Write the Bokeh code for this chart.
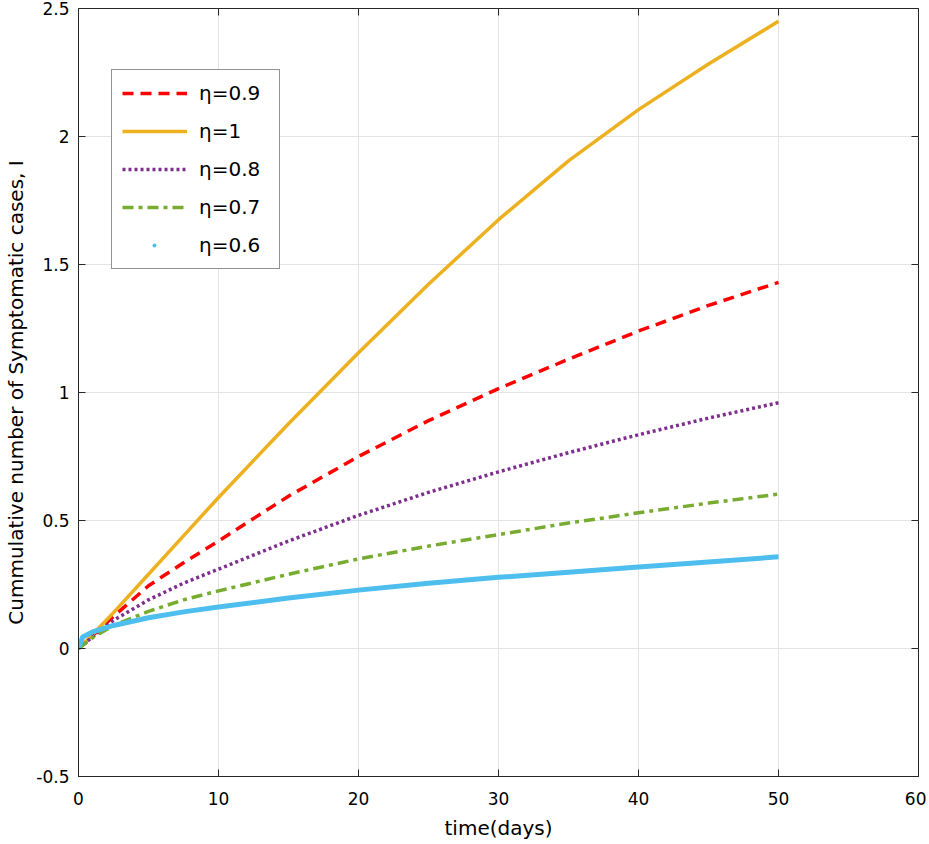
import math
from bokeh.plotting import figure
from bokeh.models import (Legend, LegendItem, FixedTicker, Range1d)
from bokeh.embed import file_html
from bokeh.resources import INLINE

# ---- data ----
t = [0, 0.3, 1, 2.5, 5, 7.5, 10, 15, 20, 25, 30, 35, 40, 45, 50]
eta_1_0 = [0, 0.015, 0.055, 0.14, 0.29, 0.44, 0.59, 0.878, 1.155, 1.423, 1.675, 1.905, 2.105, 2.283, 2.45]
eta_0_9 = [0, 0.014, 0.05, 0.125, 0.245, 0.335, 0.42, 0.595, 0.75, 0.89, 1.015, 1.13, 1.24, 1.34, 1.43]
eta_0_8 = [0, 0.013, 0.045, 0.11, 0.19, 0.255, 0.31, 0.42, 0.52, 0.61, 0.69, 0.765, 0.835, 0.90, 0.96]
eta_0_7 = [0, 0.012, 0.042, 0.09, 0.145, 0.19, 0.225, 0.29, 0.35, 0.40, 0.445, 0.49, 0.53, 0.568, 0.603]
eta_0_6 = [0, 0.045, 0.065, 0.09, 0.12, 0.143, 0.162, 0.197, 0.228, 0.255, 0.278, 0.298, 0.318, 0.338, 0.358]

x_ticks = [0, 10, 20, 30, 40, 50, 60]
y_ticks = [-0.5, 0, 0.5, 1, 1.5, 2, 2.5]
y_tick_labels = ["-0.5", "0", "0.5", "1", "1.5", "2", "2.5"]
x_tick_labels = ["0", "10", "20", "30", "40", "50", "60"]
labels = ["η=0.9", "η=1", "η=0.8", "η=0.7", "η=0.6"]

FONT = "DejaVu Sans"
AX = "#262626"

p = figure(width=926, height=844, output_backend="svg", toolbar_location=None,
           x_range=Range1d(x_ticks[0], x_ticks[-1]), y_range=Range1d(y_ticks[0], y_ticks[-1]),
           min_border_left=78, min_border_right=8, min_border_top=8, min_border_bottom=68)
p.outline_line_color = AX
p.outline_line_width = 1
p.background_fill_color = "white"
p.border_fill_color = "white"

for ax in [p.xaxis[0], p.yaxis[0]]:
    ax.major_tick_in = 7
    ax.major_tick_out = 0
    ax.minor_tick_line_color = None
    ax.axis_line_color = AX
    ax.major_tick_line_color = AX
    ax.major_label_text_font = FONT
    ax.major_label_text_font_size = "17px"
    ax.major_label_text_color = "black"
    ax.axis_label_text_font = FONT
    ax.axis_label_text_font_size = "20px"
    ax.axis_label_text_font_style = "normal"
    ax.axis_label_text_color = "black"

p.xaxis[0].ticker = FixedTicker(ticks=x_ticks)
p.xaxis[0].major_label_overrides = {v: s for v, s in zip(x_ticks, x_tick_labels)}
p.yaxis[0].ticker = FixedTicker(ticks=y_ticks)
p.yaxis[0].major_label_overrides = {v: s for v, s in zip(y_ticks, y_tick_labels)}
p.xaxis[0].axis_label = "time(days)"
p.yaxis[0].axis_label = "Cummulative number of Symptomatic cases, I"
p.xaxis[0].major_label_standoff = 15
p.yaxis[0].major_label_standoff = 9
p.xaxis[0].axis_label_standoff = 8
p.yaxis[0].axis_label_standoff = 5

p.xgrid.ticker = FixedTicker(ticks=x_ticks)
p.ygrid.ticker = FixedTicker(ticks=y_ticks)
p.grid.grid_line_color = "#e3e3e3"
p.grid.grid_line_width = 1

# inward ticks on the top and right edges of the box (half of each dash is clipped by the frame)
p.scatter(x=x_ticks, y=[y_ticks[-1]] * len(x_ticks), marker="dash", angle=math.pi / 2,
          size=14, line_color=AX, line_width=1)
p.scatter(x=[x_ticks[-1]] * len(y_ticks), y=y_ticks, marker="dash",
          size=14, line_color=AX, line_width=1)

r_red = p.line(t, eta_0_9, line_color="#ff0000", line_width=3.5, line_dash="11 7")
r_orange = p.line(t, eta_1_0, line_color="#edb120", line_width=3.5)
r_purple = p.line(t, eta_0_8, line_color="#7e2f8e", line_width=3.5, line_dash="3 3")
r_green = p.line(t, eta_0_7, line_color="#77ac30", line_width=3.5, line_dash="11 5 4 5")
r_blue = p.line(t, eta_0_6, line_color="#4dbeee", line_width=5)
# dotted marker look for the legend entry (a single small dot, hidden under the line in the plot)
r_blue_dot = p.line(t, eta_0_6, line_color="#4dbeee", line_width=4, line_cap="round",
                    line_dash="0 300", line_dash_offset=-32)

legend = Legend(items=[
    LegendItem(label=labels[0], renderers=[r_red]),
    LegendItem(label=labels[1], renderers=[r_orange]),
    LegendItem(label=labels[2], renderers=[r_purple]),
    LegendItem(label=labels[3], renderers=[r_green]),
    LegendItem(label=labels[4], renderers=[r_blue_dot]),
], location=(33, 507))
legend.label_text_font = FONT
legend.label_text_font_size = "20px"
legend.label_text_color = "black"
legend.glyph_width = 65
legend.glyph_height = 24
legend.label_height = 26
legend.label_width = 70
legend.label_standoff = 12
legend.spacing = 12
legend.padding = 10
legend.margin = 0
legend.border_line_color = AX
legend.border_line_width = 1
legend.background_fill_color = "white"
legend.background_fill_alpha = 1
p.add_layout(legend, "center")

open("out.html", "w").write(file_html(p, INLINE))
